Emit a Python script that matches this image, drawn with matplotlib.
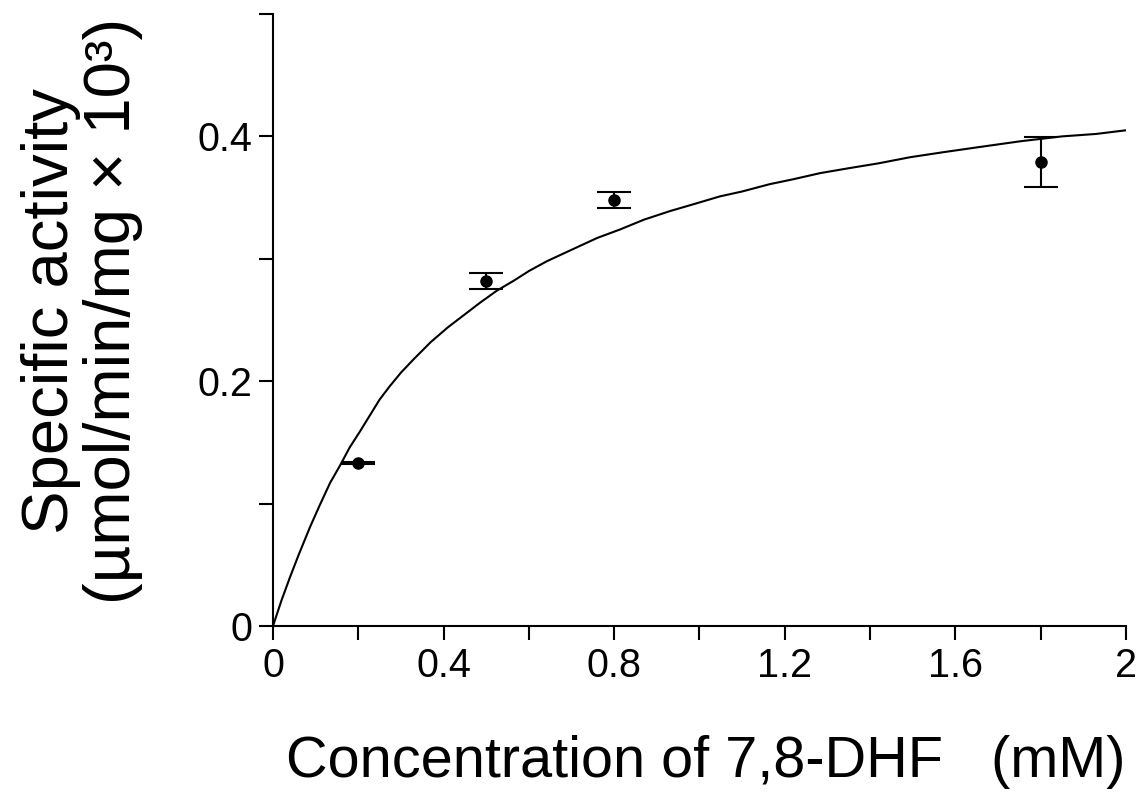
import matplotlib
matplotlib.use("Agg")
from matplotlib import pyplot as plt
from matplotlib.ticker import MultipleLocator

plt.rcParams['font.family'] = ['Liberation Sans', 'DejaVu Sans']

# measured points
conc = [0.2, 0.5, 0.8, 1.8]
activity = [0.133, 0.282, 0.348, 0.379]
activity_err = [0.001, 0.0067, 0.0064, 0.0207]

# fitted curve
fit_x = [0.0, 0.02, 0.04, 0.06, 0.087, 0.11, 0.134, 0.157, 0.18, 0.204, 0.227,
         0.25, 0.274, 0.30, 0.33, 0.37, 0.41, 0.44, 0.485, 0.525, 0.564, 0.60,
         0.642, 0.704, 0.76, 0.814, 0.87, 0.931, 0.99, 1.048, 1.10, 1.165, 1.22,
         1.283, 1.35, 1.42, 1.494, 1.57, 1.65, 1.752, 1.85, 1.93, 2.0]
fit_y = [0.0, 0.021, 0.040, 0.058, 0.081, 0.099, 0.117, 0.131, 0.146, 0.159, 0.172,
         0.185, 0.196, 0.207, 0.218, 0.232, 0.244, 0.252, 0.264, 0.274, 0.282, 0.290,
         0.298, 0.308, 0.317, 0.324, 0.332, 0.339, 0.345, 0.351, 0.355, 0.361, 0.365,
         0.370, 0.374, 0.378, 0.383, 0.387, 0.391, 0.396, 0.400, 0.402, 0.405]

xticks = [0, 0.4, 0.8, 1.2, 1.6, 2]
xticklabels = ["0", "0.4", "0.8", "1.2", "1.6", "2"]
yticks = [0, 0.2, 0.4]
yticklabels = ["0", "0.2", "0.4"]

fig = plt.figure(figsize=(11.47, 7.99), dpi=100)
ax = fig.add_axes([0.238, 0.2165, 0.7437, 0.766])

ax.plot(fit_x, fit_y, color="black", lw=1.5)
ax.errorbar(conc, activity, yerr=activity_err, fmt='o', color="black",
            markersize=8, capsize=12, elinewidth=1.5, capthick=1.5)

ax.set_xlim(0, 2)
ax.set_ylim(0, 0.5)
ax.set_xticks(xticks)
ax.set_xticklabels(xticklabels)
ax.set_yticks(yticks)
ax.set_yticklabels(yticklabels)
ax.xaxis.set_minor_locator(MultipleLocator(0.2))
ax.yaxis.set_minor_locator(MultipleLocator(0.1))

ax.spines['top'].set_visible(False)
ax.spines['right'].set_visible(False)
ax.spines['left'].set_linewidth(1.5)
ax.spines['bottom'].set_linewidth(1.5)
ax.tick_params(which='both', direction='out', length=10, width=1.5, labelsize=28.5, pad=5)

ax.set_xlabel("Concentration of 7,8-DHF   (mM)", fontsize=41.5)
ax.xaxis.set_label_coords(0.5076, -0.178)
ax.set_ylabel("Specific activity\n(µmol/min/mg × 10³)", fontsize=47, linespacing=1.05)
ax.yaxis.set_label_coords(-0.1524, 0.515)

plt.savefig("out.png")
